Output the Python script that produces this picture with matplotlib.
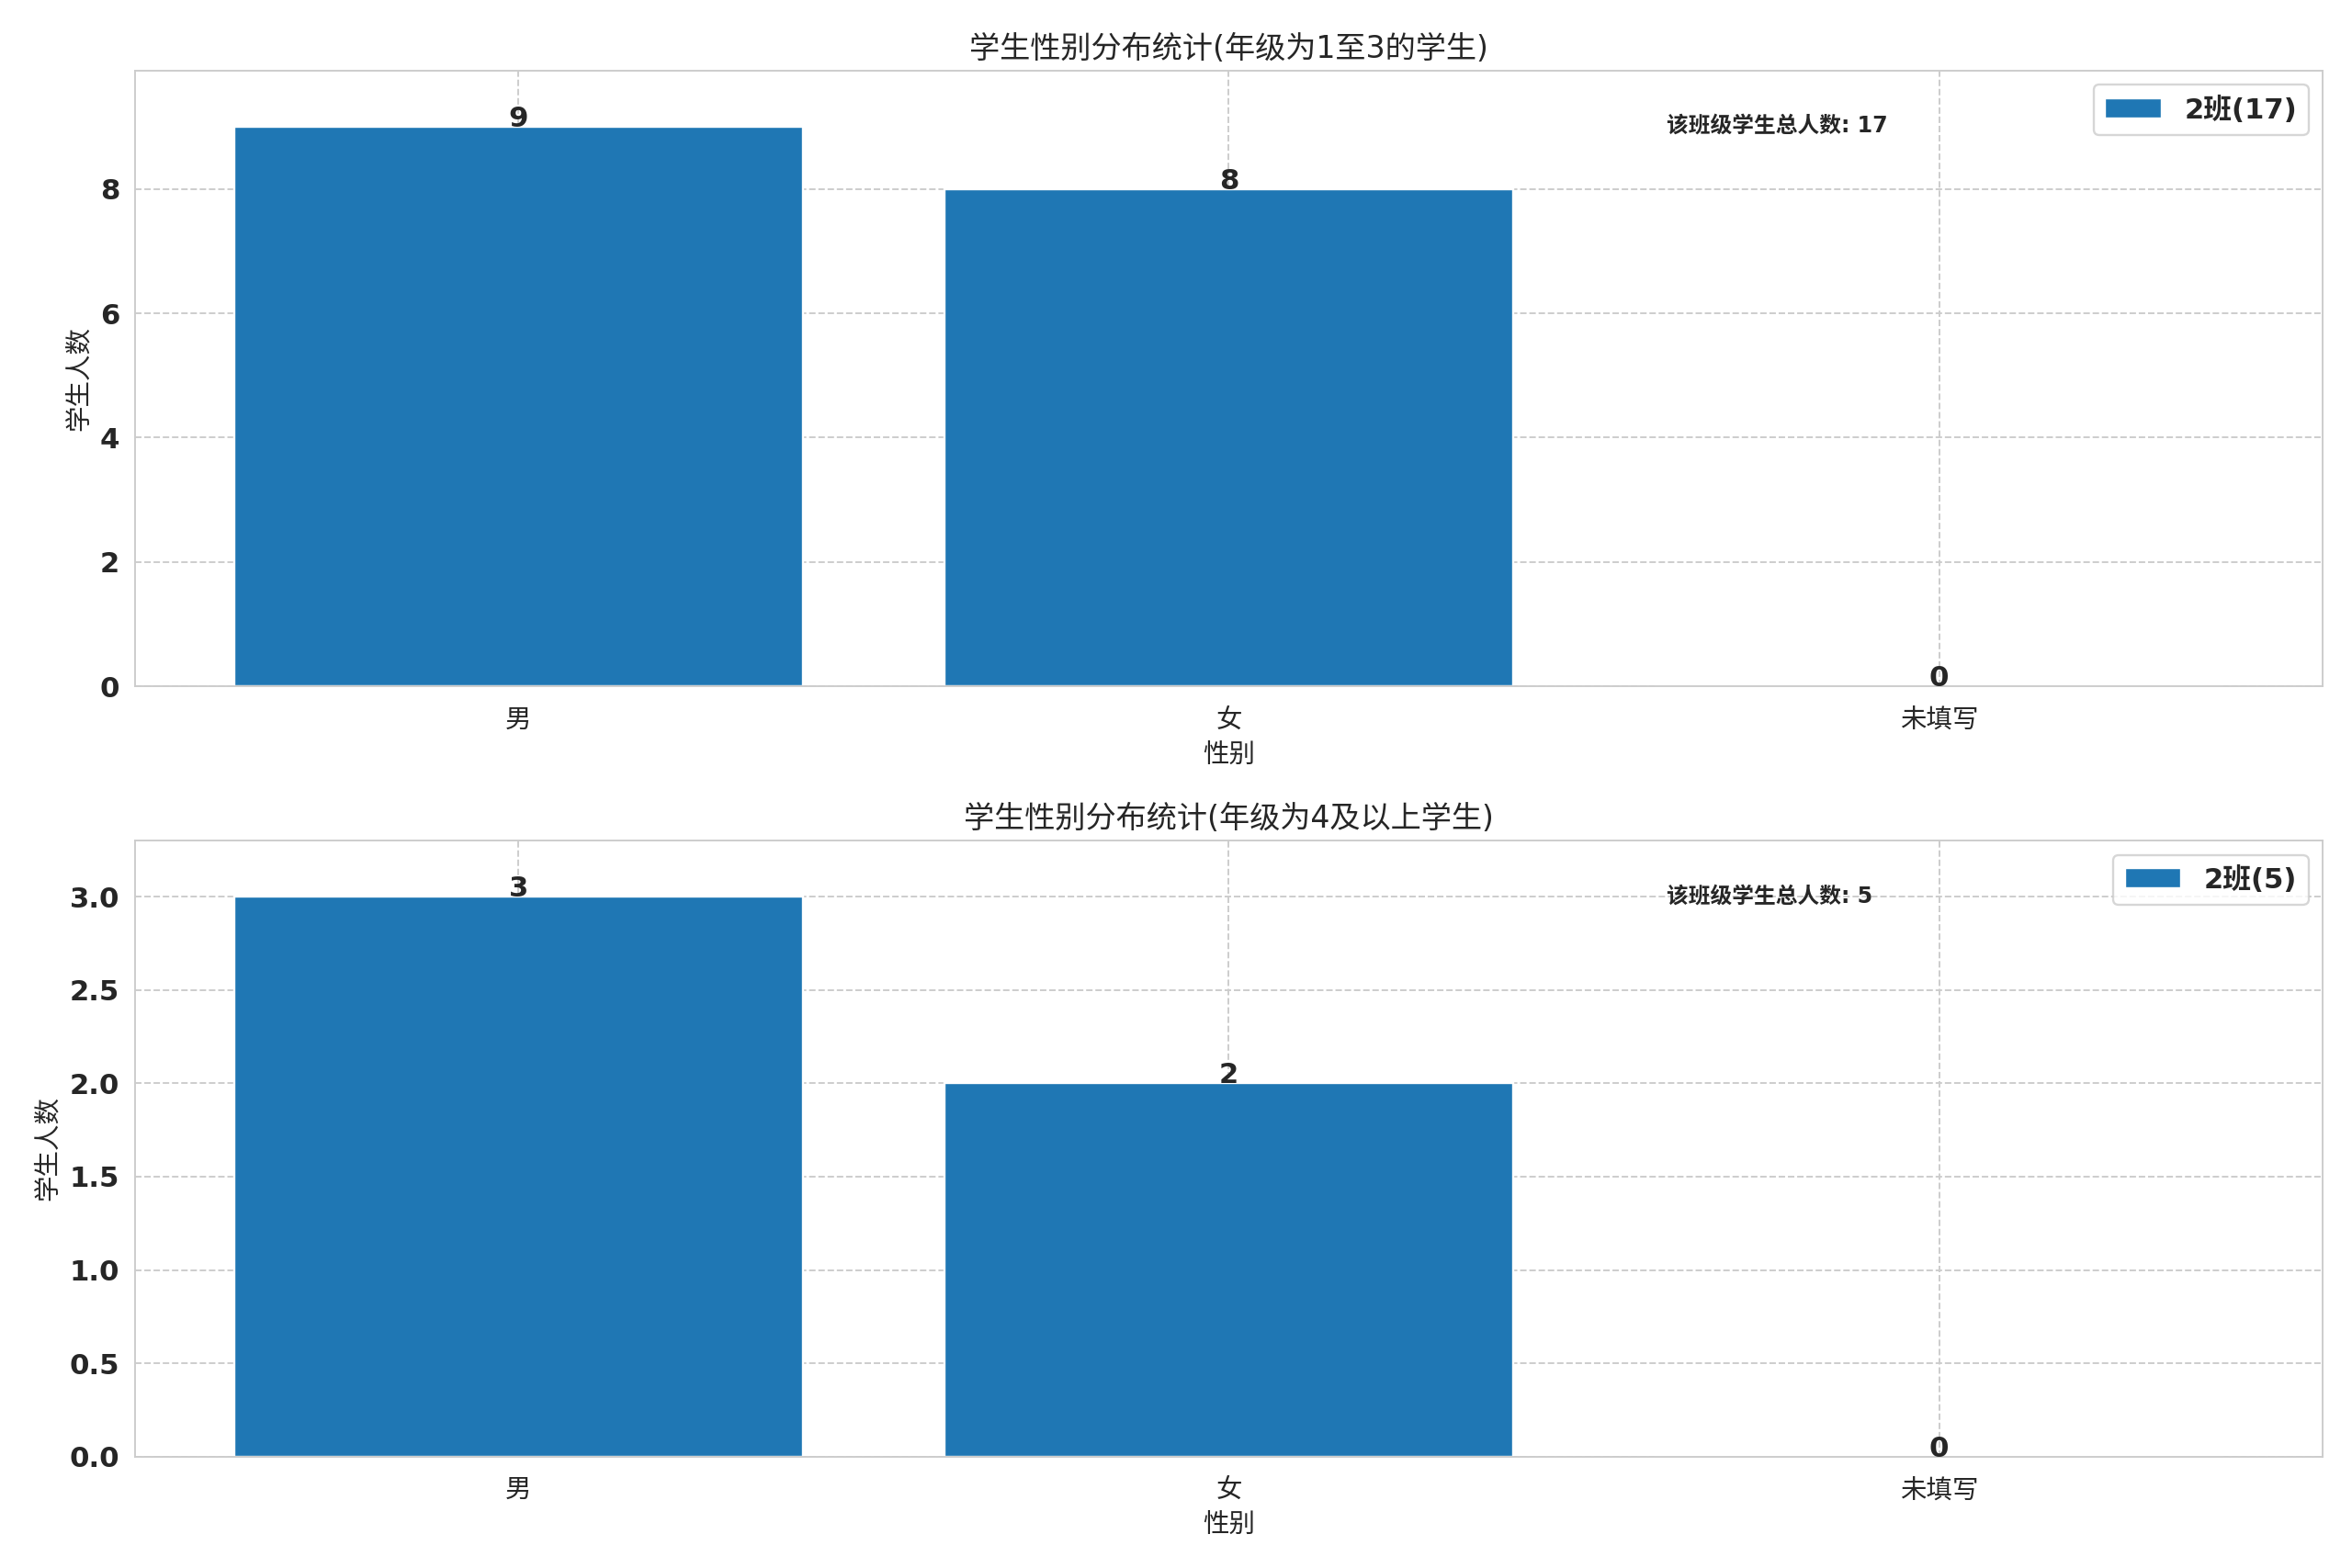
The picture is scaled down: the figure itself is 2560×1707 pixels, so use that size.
import matplotlib
matplotlib.use('Agg')
import matplotlib.pyplot as plt
import seaborn as sns

sns.set_style('whitegrid', {'grid.linestyle': '--'})
plt.rcParams['font.family'] = ['DejaVu Sans', 'Noto Sans CJK SC']
plt.rcParams['axes.unicode_minus'] = False

# 数据
categories = ['男', '女', '未填写']
counts_low = [9, 8, 0]    # 1至3年级
counts_high = [3, 2, 0]   # 4年级及以上
class_name = '2班'
titles = ['学生性别分布统计(年级为1至3的学生)', '学生性别分布统计(年级为4及以上学生)']

fig, axes = plt.subplots(2, 1, figsize=(15, 10.002), dpi=2560 / 15)
fig.subplots_adjust(left=0.0574, right=0.9875, top=0.955, bottom=0.071, hspace=0.25)

for ax, counts, title in zip(axes, [counts_low, counts_high], titles):
    total = sum(counts)
    bars = ax.bar(categories, counts, color='#1f77b4', label=f'{class_name}({total})')
    # 柱顶数值
    for b, v in zip(bars, counts):
        ax.text(b.get_x() + b.get_width() / 2, v, str(v), ha='center',
                fontsize=13, fontweight='bold', family='DejaVu Sans')
    ax.set_ylim(0, max(counts) * 1.1)
    ax.set_title(title, fontsize=14)
    ax.set_xlabel('性别', fontsize=12)
    ax.set_ylabel('学生人数', fontsize=12)
    ax.text(0.7, 0.9, f'该班级学生总人数: {total}', transform=ax.transAxes,
            fontsize=10, fontweight='bold')
    ax.legend(loc='upper right', prop={'size': 13, 'weight': 'bold'})
    ax.tick_params(axis='x', labelsize=12, pad=6)
    ax.tick_params(axis='y', labelsize=13)
    for lbl in ax.get_yticklabels():
        lbl.set_fontweight('bold')
        lbl.set_family('DejaVu Sans')

plt.savefig('out.png')
